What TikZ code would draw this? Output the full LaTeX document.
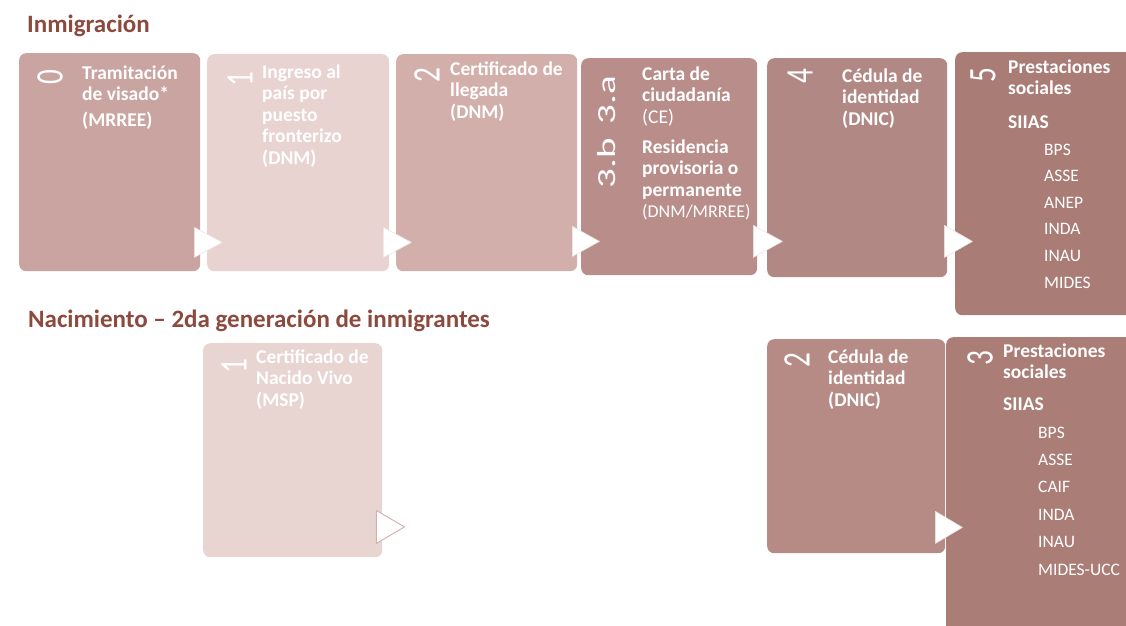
\documentclass[tikz,border=0pt]{standalone}
\usepackage{fontspec}
\setmainfont{Carlito}
\usetikzlibrary{calc}
\definecolor{ctitle}{RGB}{140,74,62}
\definecolor{c0}{RGB}{201,164,161}
\definecolor{c1}{RGB}{232,211,209}
\definecolor{c2}{RGB}{210,175,171}
\definecolor{c3}{RGB}{185,142,138}
\definecolor{c4}{RGB}{178,136,132}
\definecolor{c5}{RGB}{169,124,118}
\definecolor{cb1}{RGB}{232,213,210}
\definecolor{cb2}{RGB}{182,139,134}
\definecolor{cb3}{RGB}{170,125,119}
\newcommand{\bodytxt}[1]{\parbox[t]{170pt}{\raggedright\fontsize{19.5}{21.5}\selectfont\bfseries #1}}
\newcommand{\listtxt}[2]{\parbox[t]{100pt}{\raggedright\fontsize{17.5}{#1}\selectfont #2}}
\newcommand{\thindigit}[1]{\scalebox{0.75}[1]{#1}}
\tikzset{
  stepbox/.style={rounded corners=7pt, inner sep=0pt, anchor=north west, draw=none},
  steptxt/.style={anchor=base west, inner sep=0pt, text=white},
  stepnum/.style={rotate=90, inner sep=0pt, text=white, font=\fontsize{39}{39}\selectfont},
  stepnumsmall/.style={rotate=90, inner sep=0pt, text=white, font=\fontsize{26}{26}\selectfont},
  steptitle/.style={anchor=base west, inner sep=0pt, text=ctitle, font=\fontsize{25}{25}\selectfont\bfseries},
  steparrow/.style={fill=white, draw=white!75!c3, line width=0.6pt, line join=round},
  steparrowlight/.style={fill=white, draw=c3!70!white, line width=0.9pt, line join=round},
}
\begin{document}
\begin{tikzpicture}[x=1pt, y=-1pt]
\useasboundingbox (0,0) rectangle (1126,625);
\clip (0,0) rectangle (1126,625);
\fill[white] (0,0) rectangle (1126,625);

% titles
\node[steptitle] (title1) at (27,32) {Inmigración};
\node[steptitle] (title2) at (28,327) {Nacimiento – 2da generación de inmigrantes};

% top row boxes
\node[stepbox, fill=c0, minimum width=181pt, minimum height=218pt] (b0) at (19,53) {};
\node[stepbox, fill=c1, minimum width=182pt, minimum height=217pt] (b1) at (207,54) {};
\node[stepbox, fill=c2, minimum width=181pt, minimum height=217pt] (b2) at (396,54) {};
\node[stepbox, fill=c3, minimum width=176pt, minimum height=217pt] (b3) at (581,58) {};
\node[stepbox, fill=c4, minimum width=180pt, minimum height=219pt] (b4) at (767,58) {};
\node[stepbox, fill=c5, minimum width=190pt, minimum height=263pt] (b5) at (955,52) {};

% bottom row boxes
\node[stepbox, fill=cb1, minimum width=179pt, minimum height=214pt] (m1) at (203,343) {};
\node[stepbox, fill=cb2, minimum width=178pt, minimum height=214pt] (m2) at (767,339) {};
\node[stepbox, fill=cb3, minimum width=190pt, minimum height=300pt] (m3) at (946,337) {};

% arrows (top row)
\draw[steparrow] ($(b0.south east)+(-6,-14)$) -- ++(0,-30) -- ++(28,15) -- cycle;
\draw[steparrow] ($(b1.south east)+(-6,-14)$) -- ++(0,-30) -- ++(28,15) -- cycle;
\draw[steparrow] ($(b2.south east)+(-5,-15)$) -- ++(0,-30) -- ++(27,15) -- cycle;
\draw[steparrow] ($(b3.south east)+(-4,-18)$) -- ++(0,-32) -- ++(29,16) -- cycle;
\draw[steparrow] ($(b4.south east)+(-3,-20)$) -- ++(0,-32) -- ++(28,16) -- cycle;
% arrows (bottom row)
\draw[steparrowlight] ($(m1.south east)+(-6,-14)$) -- ++(0,-33) -- ++(28,16.5) -- cycle;
\draw[steparrow] ($(m2.south east)+(-10,-10)$) -- ++(0,-32) -- ++(27,16) -- cycle;

% numbers
\node[stepnum] (n0) at (50,77) {\thindigit{0}};
\node[stepnum] (n1) at (240,79) {\thindigit{1}};
\node[stepnum] (n2) at (427,75) {\thindigit{2}};
\node[stepnumsmall] (n3a) at (607,100) {\scalebox{1.5}[1]{3.a}};
\node[stepnumsmall] (n3b) at (607,163) {\scalebox{1.5}[1]{3.b}};
\node[stepnum] (n4) at (800,76) {\thindigit{4}};
\node[stepnum] (n5) at (983,75) {\thindigit{5}};
\node[stepnum] (k1) at (234,366) {\thindigit{1}};
\node[stepnum] (k2) at (797,360) {\thindigit{2}};
\node[stepnum] (k3) at (980,358) {\thindigit{3}};

% texts top row
\node[steptxt] (t0) at (82,79) {\bodytxt{Tramitación\\de visado*\\[4pt](MRREE)}};
\node[steptxt] (t1) at (262,78) {\bodytxt{Ingreso al\\país por\\puesto\\fronterizo\\(DNM)}};
\node[steptxt] (t2) at (450,75) {\bodytxt{Certificado de\\llegada\\(DNM)}};
\node[steptxt] (t3) at (642,80) {\bodytxt{Carta de\\ciudadanía\\{\mdseries (CE)}\\[8.5pt]Residencia\\provisoria o\\permanente\\{\mdseries\fontsize{18}{21.5}\selectfont (DNM/MRREE)}}};
\node[steptxt] (t4) at (842,82) {\bodytxt{Cédula de\\identidad\\(DNIC)}};
\node[steptxt] (t5) at (1008,73) {\bodytxt{Prestaciones\\sociales\\[12pt]SIIAS}};
\node[steptxt] (l5) at (1044,155) {\listtxt{26.6}{BPS\\ASSE\\ANEP\\INDA\\INAU\\MIDES}};

% texts bottom row
\node[steptxt] (s1) at (256,363) {\bodytxt{Certificado de\\Nacido Vivo\\(MSP)}};
\node[steptxt] (s2) at (828,363) {\bodytxt{Cédula de\\identidad\\(DNIC)}};
\node[steptxt] (s3) at (1003,357) {\bodytxt{Prestaciones\\sociales\\[10.5pt]SIIAS}};
\node[steptxt] (l3) at (1038,438) {\listtxt{27.4}{BPS\\ASSE\\CAIF\\INDA\\INAU\\MIDES-UCC}};
\end{tikzpicture}
\end{document}
